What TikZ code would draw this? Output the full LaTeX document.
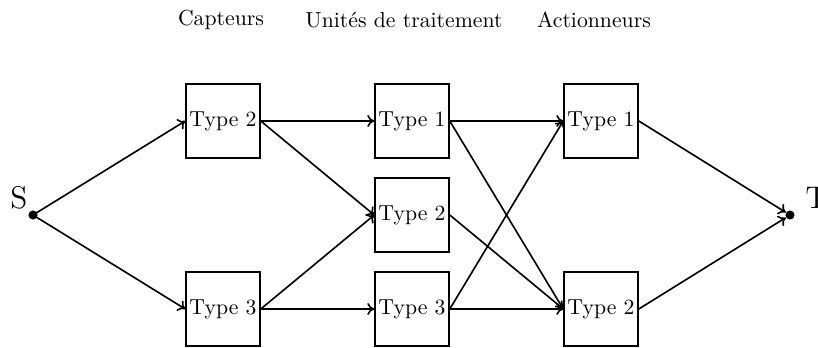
\documentclass[tikz,border=0pt]{standalone}
\usetikzlibrary{arrows.meta}
\begin{document}
\begin{tikzpicture}[x=0.46pt,y=-0.46pt,
  box/.style={draw,line width=0.75pt,minimum width=34pt,minimum height=34pt,inner sep=0pt,font=\normalsize},
  dotnode/.style={circle,fill,inner sep=0pt,minimum size=4.2pt},
  edge/.style={line width=0.75pt,-{To[length=3.2pt,width=5.5pt]}},
  colhead/.style={font=\normalsize}]
\useasboundingbox (0,0) rectangle (818,347);
% column headings
\node[colhead] (h1) at (221,20) {Capteurs};
\node[colhead] (h2) at (404,20) {Unités de traitement};
\node[colhead] (h3) at (594,20) {Actionneurs};
% source and sink
\node[dotnode] (s) at (33,215) {};
\node[dotnode] (t) at (790,215) {};
\node[font=\Large,anchor=east] (sl) at (35,198) {S};
\node[font=\Large,anchor=west] (tl) at (798,198) {T};
% boxes
\node[box] (c2) at (223,121) {Type 2};
\node[box] (c3) at (223,309) {Type 3};
\node[box] (u1) at (412,121) {Type 1};
\node[box] (u2) at (412,215) {Type 2};
\node[box] (u3) at (412,309) {Type 3};
\node[box] (a1) at (601,121) {Type 1};
\node[box] (a2) at (601,309) {Type 2};
% connectors
\draw[edge] (s.center) -- (c2.west);
\draw[edge] (s.center) -- (c3.west);
\draw[edge] (c2.east) -- (u1.west);
\draw[edge] (c2.east) -- (u2.west);
\draw[edge] (c3.east) -- (u2.west);
\draw[edge] (c3.east) -- (u3.west);
\draw[edge] (u1.east) -- (a1.west);
\draw[edge] (u1.east) -- (a2.west);
\draw[edge] (u2.east) -- (a2.west);
\draw[edge] (u3.east) -- (a1.west);
\draw[edge] (u3.east) -- (a2.west);
\draw[edge] (a1.east) -- (t);
\draw[edge] (a2.east) -- (t);
\end{tikzpicture}
\end{document}
